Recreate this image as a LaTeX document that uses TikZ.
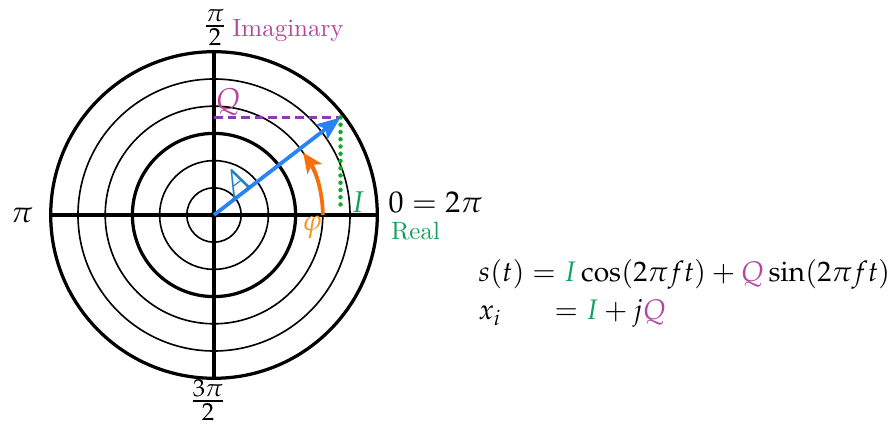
\documentclass[tikz,border=0pt]{standalone}
\usepackage{amsmath}
\usepackage{mathpazo}
\usetikzlibrary{arrows.meta}
\definecolor{Icol}{HTML}{149F5C}
\definecolor{Qcol}{HTML}{B4469E}
\definecolor{Qline}{HTML}{8C3CB0}
\definecolor{Iline}{HTML}{14AA28}
\definecolor{Acol}{HTML}{2A82F8}
\definecolor{Atext}{HTML}{1E82C8}
\definecolor{Phiarc}{HTML}{FA6E0A}
\definecolor{Phitext}{HTML}{F5962A}
\begin{document}
\begin{tikzpicture}[x=0.4pt,y=0.4pt,
  thinc/.style={line width=0.65pt},
  thickc/.style={line width=1.3pt},
  lbl/.style={inner sep=0pt, font=\large},
  frac lbl/.style={inner sep=0pt, font=\fontsize{13}{15}\selectfont},
  eq lbl/.style={inner sep=0pt, font=\fontsize{11.3}{14}\selectfont},
  small lbl/.style={inner sep=0pt, font=\normalsize}]
\useasboundingbox (-214,-211) rectangle (678,215);
\coordinate (O) at (0,0);
\coordinate (W) at (-163.3,0);
\coordinate (E) at (163.3,0);
\coordinate (N) at (0,163.3);
\coordinate (S) at (0,-163.3);
\foreach \r in {27.2,54.4,108.8,136} \draw[thinc] (O) circle[radius=\r];
\foreach \r in {81.6,163.3} \draw[thickc] (O) circle[radius=\r];
\draw[thickc] (W) -- (E);
\draw[thickc] (N) -- (S);
\fill (O) circle[radius=3.5];
\coordinate (P) at (126.5,97.5);
\coordinate (Qa) at (0,97.5);
\coordinate (Ib) at (126.5,6);
\coordinate (R4) at (108.8,0);
\draw[Qline, line width=1.45pt, dash pattern=on 3.4pt off 2pt] (Qa) -- (P);
\draw[Iline, line width=1.8pt, dash pattern=on 0pt off 2.9pt, line cap=round] (P) -- (Ib);
\draw[Acol, line width=1.5pt, -{Stealth[length=9.5pt,width=7.5pt,inset=2pt]}] (O) -- (P);
\draw[Phiarc, line width=1.5pt, -{Stealth[length=8pt,width=7pt,inset=2pt]}] (R4) arc[start angle=0, end angle=35, radius=108.8];
\node[inner sep=0pt, font=\Large, text=Atext, rotate=38] (A) at (21,32) {$A$};
\node[lbl, text=Phitext] (phi) at (98,-12) {$\varphi$};
\node[lbl, text=Qcol] (Q) at (14,113) {$Q$};
\node[lbl, text=Icol] (I) at (144,13) {$I$};
\node[lbl, anchor=base] (zero) at (221.5,2) {$0 = 2\pi$};
\node[small lbl, text=Icol, anchor=base] (real) at (201.5,-25) {Real};
\node[small lbl, text=Qcol, anchor=base] (imag) at (74,178) {Imaginary};
\node[frac lbl, anchor=base] (half) at (1,180.9) {$\tfrac{\pi}{2}$};
\node[lbl, anchor=base] (pi) at (-192,-8) {$\pi$};
\node[frac lbl, anchor=base] (threehalf) at (-6,-194) {$\tfrac{3\pi}{2}$};
\node[eq lbl, anchor=base west] (eq1) at (264,-66.7) {$s(t) = \textcolor{Icol}{I}\cos(2\pi f t) + \textcolor{Qcol}{Q}\sin(2\pi f t)$};
\node[eq lbl, anchor=base west] (eq2) at (264,-105) {$x_i\hspace{18pt} = \textcolor{Icol}{I} + j\textcolor{Qcol}{Q}$};
\end{tikzpicture}
\end{document}
